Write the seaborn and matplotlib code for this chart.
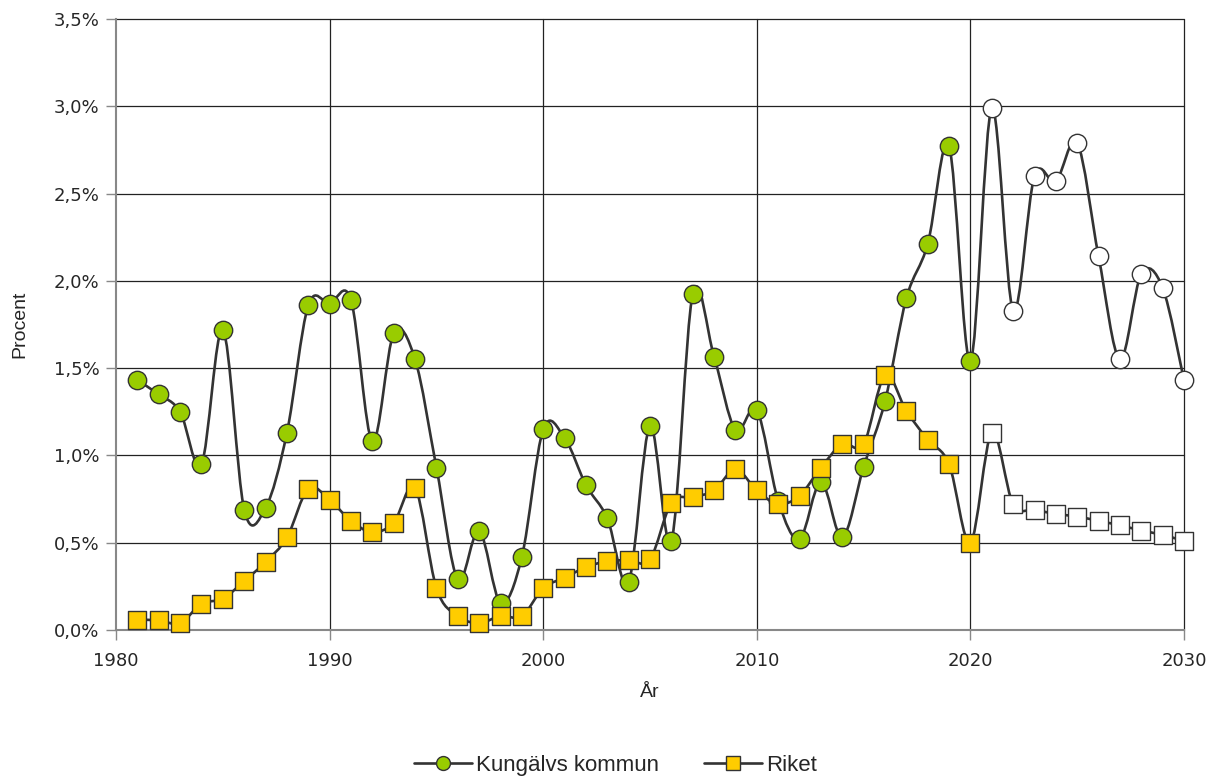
import numpy as np
import pandas as pd
import matplotlib
matplotlib.use("Agg")
import matplotlib.pyplot as plt
import seaborn as sns
from matplotlib.path import Path
from matplotlib.patches import PathPatch
from matplotlib.lines import Line2D
from matplotlib.ticker import FuncFormatter

# Values (percent)
years = list(range(1981, 2031))
kungalv = [1.43, 1.35, 1.25, 0.95, 1.72, 0.69, 0.70, 1.13, 1.86, 1.87,
           1.89, 1.08, 1.70, 1.55, 0.93, 0.29, 0.57, 0.155, 0.42, 1.15,
           1.10, 0.83, 0.64, 0.275, 1.17, 0.51, 1.925, 1.565, 1.145, 1.26,
           0.74, 0.52, 0.85, 0.53, 0.935, 1.31, 1.90, 2.21, 2.77, 1.54,
           2.99, 1.83, 2.60, 2.57, 2.79, 2.14, 1.55, 2.04, 1.96, 1.43]
riket = [0.06, 0.055, 0.04, 0.15, 0.18, 0.28, 0.39, 0.53, 0.81, 0.745,
         0.625, 0.56, 0.615, 0.815, 0.24, 0.08, 0.04, 0.08, 0.08, 0.24,
         0.30, 0.36, 0.395, 0.40, 0.405, 0.73, 0.76, 0.80, 0.92, 0.80,
         0.72, 0.77, 0.93, 1.065, 1.065, 1.46, 1.255, 1.09, 0.95, 0.50,
         1.13, 0.72, 0.69, 0.665, 0.65, 0.625, 0.60, 0.57, 0.545, 0.51]
last_actual = 2020

df = pd.DataFrame({"År": years, "Kungälvs kommun": kungalv, "Riket": riket})
df["prognos"] = df["År"] > last_actual

line_col = "#333333"
green = "#99cc00"
yellow = "#ffcc00"


def smooth_path(x, y):
    # Excel-style smoothed line as cubic Bezier segments
    x = np.asarray(x, float)
    y = np.asarray(y, float)
    verts = [(x[0], y[0])]
    codes = [Path.MOVETO]
    n = len(x)
    for i in range(n - 1):
        i0 = max(i - 1, 0)
        i3 = min(i + 2, n - 1)
        c1 = (x[i] + (x[i + 1] - x[i0]) / 6, y[i] + (y[i + 1] - y[i0]) / 6)
        c2 = (x[i + 1] - (x[i3] - x[i]) / 6, y[i + 1] - (y[i3] - y[i]) / 6)
        verts += [c1, c2, (x[i + 1], y[i + 1])]
        codes += [Path.CURVE4] * 3
    return Path(verts, codes)


sns.set_style("white")
plt.rcParams["font.family"] = ["Liberation Sans", "DejaVu Sans"]

fig = plt.figure(figsize=(12.14, 7.78), dpi=100)
ax = fig.add_axes([0.0956, 0.1902, 0.8797, 0.7854])

# vertical / horizontal grid
for gx in range(1990, 2031, 10):
    ax.axvline(gx, color="#222222", lw=0.9, zorder=1, clip_on=False)
for gy in np.arange(0.5, 3.51, 0.5):
    ax.axhline(gy, color="#222222", lw=0.9, zorder=1, clip_on=False)

for col in ["Kungälvs kommun", "Riket"]:
    ax.add_patch(PathPatch(smooth_path(df["År"], df[col]), fill=False,
                           edgecolor=line_col, lw=1.9, zorder=3, clip_on=False))

hist = df[~df["prognos"]]
prog = df[df["prognos"]]
kw = dict(s=175, edgecolor=line_col, linewidth=1.0, ax=ax, clip_on=False)
sns.scatterplot(data=hist, x="År", y="Kungälvs kommun", marker="o",
                color=green, zorder=4, **kw)
sns.scatterplot(data=prog, x="År", y="Kungälvs kommun", marker="o",
                color="white", zorder=4, **kw)
sns.scatterplot(data=hist, x="År", y="Riket", marker="s",
                color=yellow, zorder=5, **kw)
sns.scatterplot(data=prog, x="År", y="Riket", marker="s",
                color="white", zorder=5, **kw)

ax.set_xlim(1980, 2030)
ax.set_ylim(0, 3.5)
ax.set_xticks(range(1980, 2031, 10))
ax.set_yticks(np.arange(0, 3.51, 0.5))
ax.yaxis.set_major_formatter(FuncFormatter(lambda v, p: f"{v:.1f}%".replace(".", ",")))
ax.tick_params(axis="both", which="major", length=7, width=1, color="#888888",
               direction="out", pad=5)
ax.tick_params(axis="y", left=True)
ax.tick_params(axis="x", bottom=True, pad=9)
for lab in ax.get_xticklabels() + ax.get_yticklabels():
    lab.set_family(["DejaVu Sans"])
    lab.set_fontsize(13)
for side in ["top", "right"]:
    ax.spines[side].set_visible(False)
for side in ["left", "bottom"]:
    ax.spines[side].set_color("#888888")
    ax.spines[side].set_linewidth(1.5)

ax.set_xlabel("År", fontsize=14, labelpad=10)
ax.set_ylabel("Procent", fontsize=14, labelpad=18)

handles = [
    Line2D([], [], color=line_col, lw=1.9, marker="o", markersize=10,
           markerfacecolor=green, markeredgecolor=line_col),
    Line2D([], [], color=line_col, lw=1.9, marker="s", markersize=10,
           markerfacecolor=yellow, markeredgecolor=line_col),
]
fig.legend(handles, ["Kungälvs kommun", "Riket"], loc="center",
           bbox_to_anchor=(0.507, 0.016), ncol=2, frameon=False, fontsize=16,
           handlelength=2.6, columnspacing=2.0, handletextpad=0.2)

fig.savefig("out.png", dpi=100)
